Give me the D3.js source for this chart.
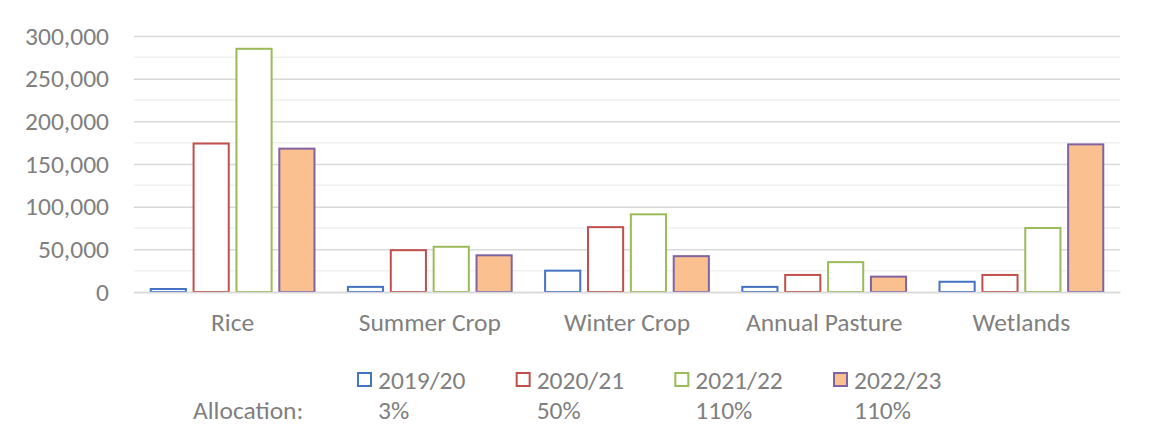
<!DOCTYPE html>
<html>
<head>
<meta charset="utf-8">
<script src="https://cdn.jsdelivr.net/npm/d3@7"></script>
<style>
  body { margin: 0; background: #fff; }
  text { font-family: Calibri, Carlito, "Liberation Sans", sans-serif; fill: #7f7f7f; }
</style>
</head>
<body>
<div id="main"></div>
<script>
// chart values
const categories = ["Rice", "Summer Crop", "Winter Crop", "Annual Pasture", "Wetlands"];
const seasons = ["2019/20", "2020/21", "2021/22", "2022/23"];
const allocations = ["3%", "50%", "110%", "110%"];
const v2019 = [3500, 6000, 25000, 6000, 12000];
const v2020 = [174000, 49000, 76000, 20000, 20000];
const v2021 = [285000, 53000, 91000, 35000, 75000];
const v2022 = [168000, 43000, 42000, 18000, 173000];
const yTicks = [0, 50000, 100000, 150000, 200000, 250000, 300000];

const ctx = {
    w: 1152,
    h: 436,
    LEFT: 134,
    RIGHT: 1120,
    TOP: 36,
    ZERO: 292,
    STROKE_W: 2,
    FONT: "25.5px"
};

const strokes = ["#4472C4", "#C0504D", "#9BBB59", "#8064A2"];
const fills = ["#ffffff", "#ffffff", "#ffffff", "#FAC090"];

function createViz(){
    let svg = d3.select("#main").append("svg")
        .attr("width", ctx.w)
        .attr("height", ctx.h);

    let series = [v2019, v2020, v2021, v2022];
    let rows = [];
    categories.forEach((c, i) => {
        seasons.forEach((s, j) => {
            rows.push({cat: c, season: s, idx: j, value: series[j][i]});
        });
    });

    let x0 = d3.scaleBand().domain(categories).range([ctx.LEFT, ctx.RIGHT]);
    let x1 = d3.scaleBand().domain(seasons)
        .range([0, x0.bandwidth()])
        .paddingInner(0.18)
        .paddingOuter(0.39);
    let y = d3.scaleLinear().domain([0, 300000]).range([ctx.ZERO, ctx.TOP]);

    // minor gridlines (every 25,000)
    let minor = d3.range(25000, 300000, 50000);
    svg.append("g").selectAll("line")
        .data(minor)
        .enter()
        .append("line")
        .attr("x1", ctx.LEFT).attr("x2", ctx.RIGHT)
        .attr("y1", (d) => y(d)).attr("y2", (d) => y(d))
        .attr("stroke", "#f0f0f0")
        .attr("stroke-width", 1.5);

    // y axis with major gridlines
    let yAxis = svg.append("g")
        .attr("transform", `translate(${ctx.LEFT},0)`)
        .call(d3.axisLeft(y)
            .tickValues(yTicks)
            .tickSize(-(ctx.RIGHT - ctx.LEFT))
            .tickPadding(25)
            .tickFormat(d3.format(",")));
    yAxis.select(".domain").remove();
    yAxis.selectAll("line")
        .attr("stroke", "#d9d9d9")
        .attr("stroke-width", 1.5);
    yAxis.selectAll("text")
        .attr("fill", "#7f7f7f")
        .style("font-size", ctx.FONT);

    // bars
    svg.append("g").selectAll("rect")
        .data(rows)
        .enter()
        .append("rect")
        .attr("x", (d) => x0(d.cat) + x1(d.season))
        .attr("y", (d) => y(d.value))
        .attr("width", x1.bandwidth())
        .attr("height", (d) => y(0) - y(d.value))
        .attr("fill", (d) => fills[d.idx])
        .attr("stroke", (d) => strokes[d.idx])
        .attr("stroke-width", ctx.STROKE_W);

    // category axis
    let xAxis = svg.append("g")
        .attr("transform", `translate(0,${ctx.ZERO})`)
        .call(d3.axisBottom(x0).tickSize(0).tickPadding(21));
    xAxis.select(".domain")
        .attr("stroke", "#d9d9d9")
        .attr("stroke-width", 1.5);
    xAxis.selectAll("text")
        .attr("fill", "#7f7f7f")
        .style("font-size", ctx.FONT);

    // legend
    let legX = d3.scaleLinear().domain([0, 3]).range([358, 834]);
    let leg = svg.append("g");
    let item = leg.selectAll("g")
        .data(seasons)
        .enter()
        .append("g")
        .attr("transform", (d, i) => `translate(${legX(i)},0)`);
    item.append("rect")
        .attr("x", 0).attr("y", 373)
        .attr("width", 13).attr("height", 13)
        .attr("fill", (d, i) => fills[i])
        .attr("stroke", (d, i) => strokes[i])
        .attr("stroke-width", ctx.STROKE_W);
    item.append("text")
        .attr("x", 20).attr("y", 389)
        .style("font-size", ctx.FONT)
        .text((d) => d);
    item.append("text")
        .attr("x", 20).attr("y", 419)
        .style("font-size", ctx.FONT)
        .text((d, i) => allocations[i]);
    leg.append("text")
        .attr("x", 193).attr("y", 419)
        .style("font-size", ctx.FONT)
        .text("Allocation:");
}

createViz();
</script>
</body>
</html>
